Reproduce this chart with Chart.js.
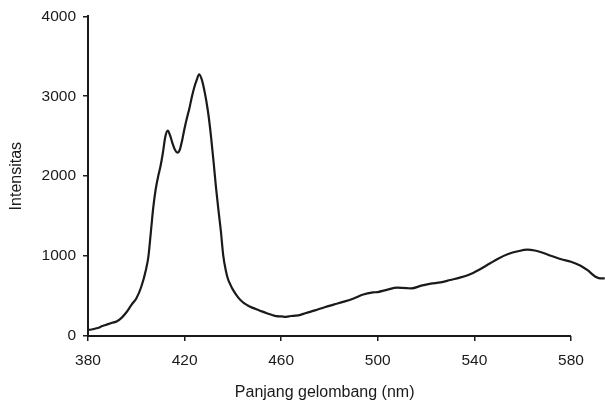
<!DOCTYPE html>
<html>
<head>
<meta charset="utf-8">
<script src="https://cdn.jsdelivr.net/npm/chart.js@4"></script>
<style>
  html, body { margin: 0; padding: 0; background: #fff; }
  #wrap { width: 605px; height: 406px; }
</style>
</head>
<body>
<div id="wrap"><canvas id="spectrum-chart"></canvas></div>
<script>
// Spectrum data
const wavelength = [380, 382, 384, 386, 388, 390, 392, 394, 396, 398,
  400, 402, 404, 405, 406, 407, 408, 409, 410, 411, 412, 413, 414, 415, 416, 417, 418, 419,
  420, 421, 422, 423, 424, 425, 426, 427, 428, 429, 430, 431, 432, 433, 434, 435, 436, 437, 438,
  439, 440, 442, 444, 446, 448, 451, 454, 456, 458, 460, 462, 464, 466, 468, 470, 474, 478,
  482, 486, 490, 494, 498, 500, 504, 508, 512, 514, 518, 522, 526, 530, 534, 538, 542, 546,
  550, 554, 558, 562, 565, 568, 572, 576, 580, 584, 587, 590, 592, 594];
const intensity = [75, 85, 100, 125, 145, 165, 185, 230, 300, 390,
  470, 610, 830, 990, 1290, 1600, 1830, 1990, 2120, 2290, 2490, 2570, 2510, 2410, 2330, 2295, 2330, 2450,
  2600, 2730, 2850, 2990, 3110, 3200, 3275, 3220, 3100, 2940, 2740, 2480, 2180, 1860, 1580, 1320, 1010, 830, 710,
  640, 580, 490, 425, 385, 355, 320, 285, 265, 248, 245, 240, 250, 255, 265, 285, 320, 360,
  395, 430, 470, 520, 545, 550, 580, 605, 600, 595, 630, 655, 670, 700, 730, 770, 830, 900,
  970, 1025, 1060, 1080, 1070, 1045, 1000, 960, 930, 880, 820, 745, 720, 720];
const xTicks = [380, 420, 460, 500, 540, 580];
const yTicks = [0, 1000, 2000, 3000, 4000];

const ink = '#1a1a1a';
const font = { family: 'Liberation Sans, Arial, sans-serif', size: 15.5 };

// x axis line only runs 380..580, and the title sits under that span
const axisPlugin = {
  id: 'axisPlugin',
  afterDraw(chart) {
    const ctx = chart.ctx;
    const xs = chart.scales.x;
    const ys = chart.scales.y;
    const y0 = ys.getPixelForValue(0);
    const x1 = xs.getPixelForValue(xTicks[0]);
    const x2 = xs.getPixelForValue(xTicks[xTicks.length - 1]);
    ctx.save();
    ctx.strokeStyle = ink;
    ctx.lineWidth = 2;
    ctx.beginPath();
    ctx.moveTo(x1 - 1, y0);
    ctx.lineTo(x2, y0);
    ctx.stroke();
    ctx.fillStyle = ink;
    ctx.font = '16px ' + font.family;
    ctx.textAlign = 'center';
    ctx.textBaseline = 'middle';
    ctx.fillText('Panjang gelombang (nm)', xs.getPixelForValue(478), 393);
    ctx.restore();
  }
};

new Chart(document.getElementById('spectrum-chart'), {
  type: 'line',
  data: {
    datasets: [{
      label: 'Intensitas',
      data: wavelength.map((w, i) => ({ x: w, y: intensity[i] })),
      borderColor: ink,
      borderWidth: 2.2,
      pointRadius: 0,
      fill: false,
      cubicInterpolationMode: 'monotone'
    }]
  },
  options: {
    responsive: true,
    maintainAspectRatio: false,
    animation: false,
    layout: { padding: { top: 15, right: 0, bottom: 0, left: 0 } },
    plugins: {
      legend: { display: false },
      tooltip: { enabled: false }
    },
    scales: {
      x: {
        type: 'linear',
        min: 380,
        max: 594.1,
        afterBuildTicks: (s) => { s.ticks = xTicks.map(v => ({ value: v })); },
        afterFit: (s) => { s.height = 70; },
        border: { display: false },
        grid: { drawOnChartArea: false, drawTicks: true, tickLength: 5, color: ink, lineWidth: 1.5 },
        ticks: { color: ink, font: font, padding: 10, maxRotation: 0, callback: (v) => String(v) }
      },
      y: {
        min: 0,
        max: 4000,
        afterBuildTicks: (s) => { s.ticks = yTicks.map(v => ({ value: v })); },
        afterFit: (s) => { s.width = 88; },
        border: { display: true, color: ink, width: 2 },
        grid: { drawOnChartArea: false, drawTicks: true, tickLength: 5, color: ink, lineWidth: 1.5 },
        ticks: { color: ink, font: font, padding: 7, callback: (v) => String(v) },
        title: {
          display: true,
          text: 'Intensitas',
          color: ink,
          font: { family: font.family, size: 16 },
          padding: { top: 7, bottom: 0 }
        }
      }
    }
  },
  plugins: [axisPlugin]
});
</script>
</body>
</html>
